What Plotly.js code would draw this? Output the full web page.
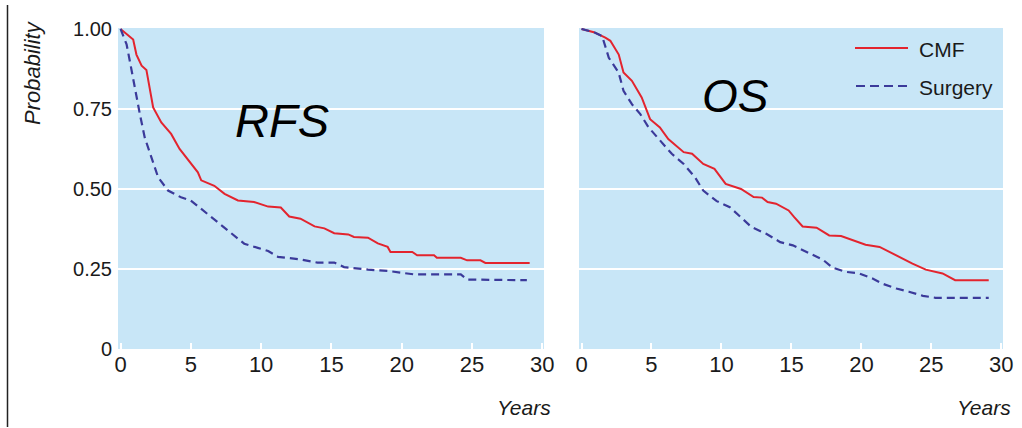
<!DOCTYPE html>
<html>
<head>
<meta charset="utf-8">
<script src="https://cdn.plot.ly/plotly-3.0.1.min.js"></script>
<style>html,body{margin:0;padding:0;background:#fff;}#chart{width:1022px;height:428px;}</style>
</head>
<body>
<div id="chart"></div>
<script>
// Years (x) and probability (y)
var rfsCmfYears = [0, 0.9, 1.13, 1.5, 1.84, 2.32, 2.9, 3.6, 4.2, 5.04, 5.5, 5.74, 6.67, 7.4, 8.35, 9.5, 10.5, 11.4, 12.0, 12.8, 13.8, 14.5, 15.2, 16.2, 16.6, 17.6, 18.3, 19.0, 19.2, 20.75, 21.1, 22.3, 22.5, 24.2, 24.65, 25.6, 25.95, 29.1];
var rfsCmfProb  = [1.0, 0.967, 0.92, 0.885, 0.872, 0.755, 0.708, 0.672, 0.625, 0.579, 0.552, 0.527, 0.51, 0.485, 0.464, 0.459, 0.445, 0.442, 0.414, 0.407, 0.383, 0.377, 0.362, 0.358, 0.35, 0.348, 0.33, 0.319, 0.303, 0.303, 0.293, 0.293, 0.285, 0.285, 0.277, 0.277, 0.269, 0.269];

var rfsSurgYears = [0, 0.43, 0.66, 1.0, 1.37, 1.72, 2.2, 2.67, 3.38, 4.3, 5.0, 5.74, 6.45, 7.4, 8.1, 8.8, 9.76, 10.5, 11.2, 12.8, 14.0, 15.2, 15.9, 17.6, 19.0, 19.9, 20.9, 24.2, 24.65, 28.9];
var rfsSurgProb  = [1.0, 0.952, 0.9, 0.817, 0.735, 0.661, 0.6, 0.537, 0.495, 0.474, 0.464, 0.438, 0.412, 0.381, 0.355, 0.329, 0.316, 0.306, 0.288, 0.28, 0.27, 0.27, 0.256, 0.248, 0.244, 0.238, 0.233, 0.233, 0.217, 0.215];

var osCmfYears = [0, 0.88, 1.7, 2.06, 2.66, 3.0, 3.6, 4.3, 4.9, 5.6, 6.2, 6.9, 7.3, 7.9, 8.7, 9.5, 10.3, 11.4, 12.3, 12.9, 13.3, 13.9, 14.8, 15.2, 15.8, 16.8, 17.7, 18.55, 19.4, 20.3, 21.3, 22.0, 22.8, 23.65, 24.6, 25.8, 26.7, 29.1];
var osCmfProb  = [1.0, 0.99, 0.973, 0.963, 0.92, 0.864, 0.838, 0.786, 0.718, 0.692, 0.656, 0.63, 0.615, 0.61, 0.578, 0.563, 0.516, 0.5, 0.475, 0.473, 0.459, 0.454, 0.433, 0.412, 0.383, 0.379, 0.355, 0.353, 0.34, 0.326, 0.319, 0.303, 0.285, 0.267, 0.248, 0.236, 0.215, 0.215];

var osSurgYears = [0, 0.88, 1.47, 1.95, 2.65, 3.0, 3.6, 4.2, 4.8, 5.6, 6.45, 7.3, 8.1, 8.7, 9.66, 10.6, 11.4, 12.15, 13.2, 14.2, 15.1, 16.1, 17.25, 17.95, 18.9, 19.85, 20.8, 21.5, 22.5, 23.4, 24.4, 25.3, 29.1];
var osSurgProb  = [1.0, 0.99, 0.978, 0.91, 0.864, 0.807, 0.765, 0.734, 0.692, 0.651, 0.61, 0.578, 0.537, 0.495, 0.462, 0.443, 0.412, 0.381, 0.36, 0.334, 0.324, 0.303, 0.279, 0.254, 0.241, 0.236, 0.22, 0.204, 0.189, 0.179, 0.166, 0.16, 0.16];

var xTickVals = [0, 5, 10, 15, 20, 25, 30];
var xTickText = ["0", "5", "10", "15", "20", "25", "30"];
var yTickVals = [0, 0.25, 0.5, 0.75, 1.0];
var yTickText = ["0", "0.25", "0.50", "0.75", "1.00"];
var seriesNames = ["CMF", "Surgery"];
var panelTitles = ["RFS", "OS"];

var RED = "#e3242e", BLUE = "#3b3a9a", BG = "#c8e6f7";
var W = 1022, H = 428;
function px(x){return x / W;}
function py(y){return 1 - y / H;}

var cmfLine = {color: RED, width: 2};
var surgLine = {color: BLUE, width: 2.2, dash: "8px,5px"};

var traces = [
  {x: rfsCmfYears, y: rfsCmfProb, xaxis: "x", yaxis: "y", mode: "lines", name: seriesNames[0], line: cmfLine, showlegend: false},
  {x: rfsSurgYears, y: rfsSurgProb, xaxis: "x", yaxis: "y", mode: "lines", name: seriesNames[1], line: surgLine, showlegend: false},
  {x: osCmfYears, y: osCmfProb, xaxis: "x2", yaxis: "y2", mode: "lines", name: seriesNames[0], line: cmfLine, showlegend: false},
  {x: osSurgYears, y: osSurgProb, xaxis: "x2", yaxis: "y2", mode: "lines", name: seriesNames[1], line: surgLine, showlegend: false}
];

var FAM = "Liberation Sans, Arial, sans-serif";
var tickFont = {family: FAM, size: 20, color: "#1a1a1a"};
function xa(domain){
  return {domain: domain, range: [-0.18, 30.12], tickvals: xTickVals, ticktext: xTickText,
    ticks: "inside", ticklen: 6, tickwidth: 2, tickcolor: "#ffffff", showgrid: false, zeroline: false,
    showline: false, tickfont: {family: FAM, size: 22, color: "#1a1a1a"}, fixedrange: true};
}
function ya(domain, labels, anchor){
  return {domain: domain, range: [0, 1.003], tickvals: yTickVals, ticktext: yTickText, showticklabels: labels,
    ticks: "", showgrid: true, gridcolor: "#ffffff", gridwidth: 2, zeroline: false, showline: false,
    tickfont: tickFont, ticklabelstandoff: 5, anchor: anchor, fixedrange: true};
}

var yDom = [py(349), py(28)];
var layout = {
  width: W, height: H,
  margin: {l: 0, r: 0, t: 0, b: 0},
  paper_bgcolor: "#ffffff", plot_bgcolor: BG,
  showlegend: false,
  xaxis: xa([px(118), px(544)]),
  yaxis: ya(yDom, true, "x"),
  xaxis2: xa([px(579), px(1003)]),
  yaxis2: ya(yDom, false, "x2"),
  shapes: [
    {type: "line", xref: "paper", yref: "paper", x0: px(7.5), x1: px(7.5), y0: py(427), y1: py(5), line: {color: "#222", width: 1.5}},
    {type: "line", xref: "paper", yref: "paper", x0: px(855), x1: px(908), y0: py(48), y1: py(48), line: {color: RED, width: 2}},
    {type: "line", xref: "paper", yref: "paper", x0: px(856), x1: px(910), y0: py(86), y1: py(86), line: {color: BLUE, width: 2.2, dash: "9px,5px"}}
  ],
  annotations: [
    {text: panelTitles[0], xref: "paper", yref: "paper", x: px(233), y: py(120), xanchor: "left", yanchor: "middle", showarrow: false,
     font: {family: FAM, size: 47, style: "italic", color: "#000"}},
    {text: panelTitles[1], xref: "paper", yref: "paper", x: px(700), y: py(96), xanchor: "left", yanchor: "middle", showarrow: false,
     font: {family: FAM, size: 46, style: "italic", color: "#000"}},
    {text: seriesNames[0], xref: "paper", yref: "paper", x: px(917), y: py(49), xanchor: "left", yanchor: "middle", showarrow: false,
     font: {family: FAM, size: 21, color: "#1a1a1a"}},
    {text: seriesNames[1], xref: "paper", yref: "paper", x: px(917), y: py(87), xanchor: "left", yanchor: "middle", showarrow: false,
     font: {family: FAM, size: 21, color: "#1a1a1a"}},
    {text: "Years", xref: "paper", yref: "paper", x: px(553), y: py(407), xanchor: "right", yanchor: "middle", showarrow: false,
     font: {family: FAM, size: 21, style: "italic", color: "#1a1a1a"}},
    {text: "Years", xref: "paper", yref: "paper", x: px(1013), y: py(407), xanchor: "right", yanchor: "middle", showarrow: false,
     font: {family: FAM, size: 21, style: "italic", color: "#1a1a1a"}},
    {text: "Probability", xref: "paper", yref: "paper", x: px(33), y: py(73), xanchor: "center", yanchor: "middle", textangle: -90, showarrow: false,
     font: {family: FAM, size: 22, style: "italic", color: "#1a1a1a"}}
  ]
};

Plotly.newPlot("chart", traces, layout, {displayModeBar: false, staticPlot: true});
</script>
</body>
</html>
